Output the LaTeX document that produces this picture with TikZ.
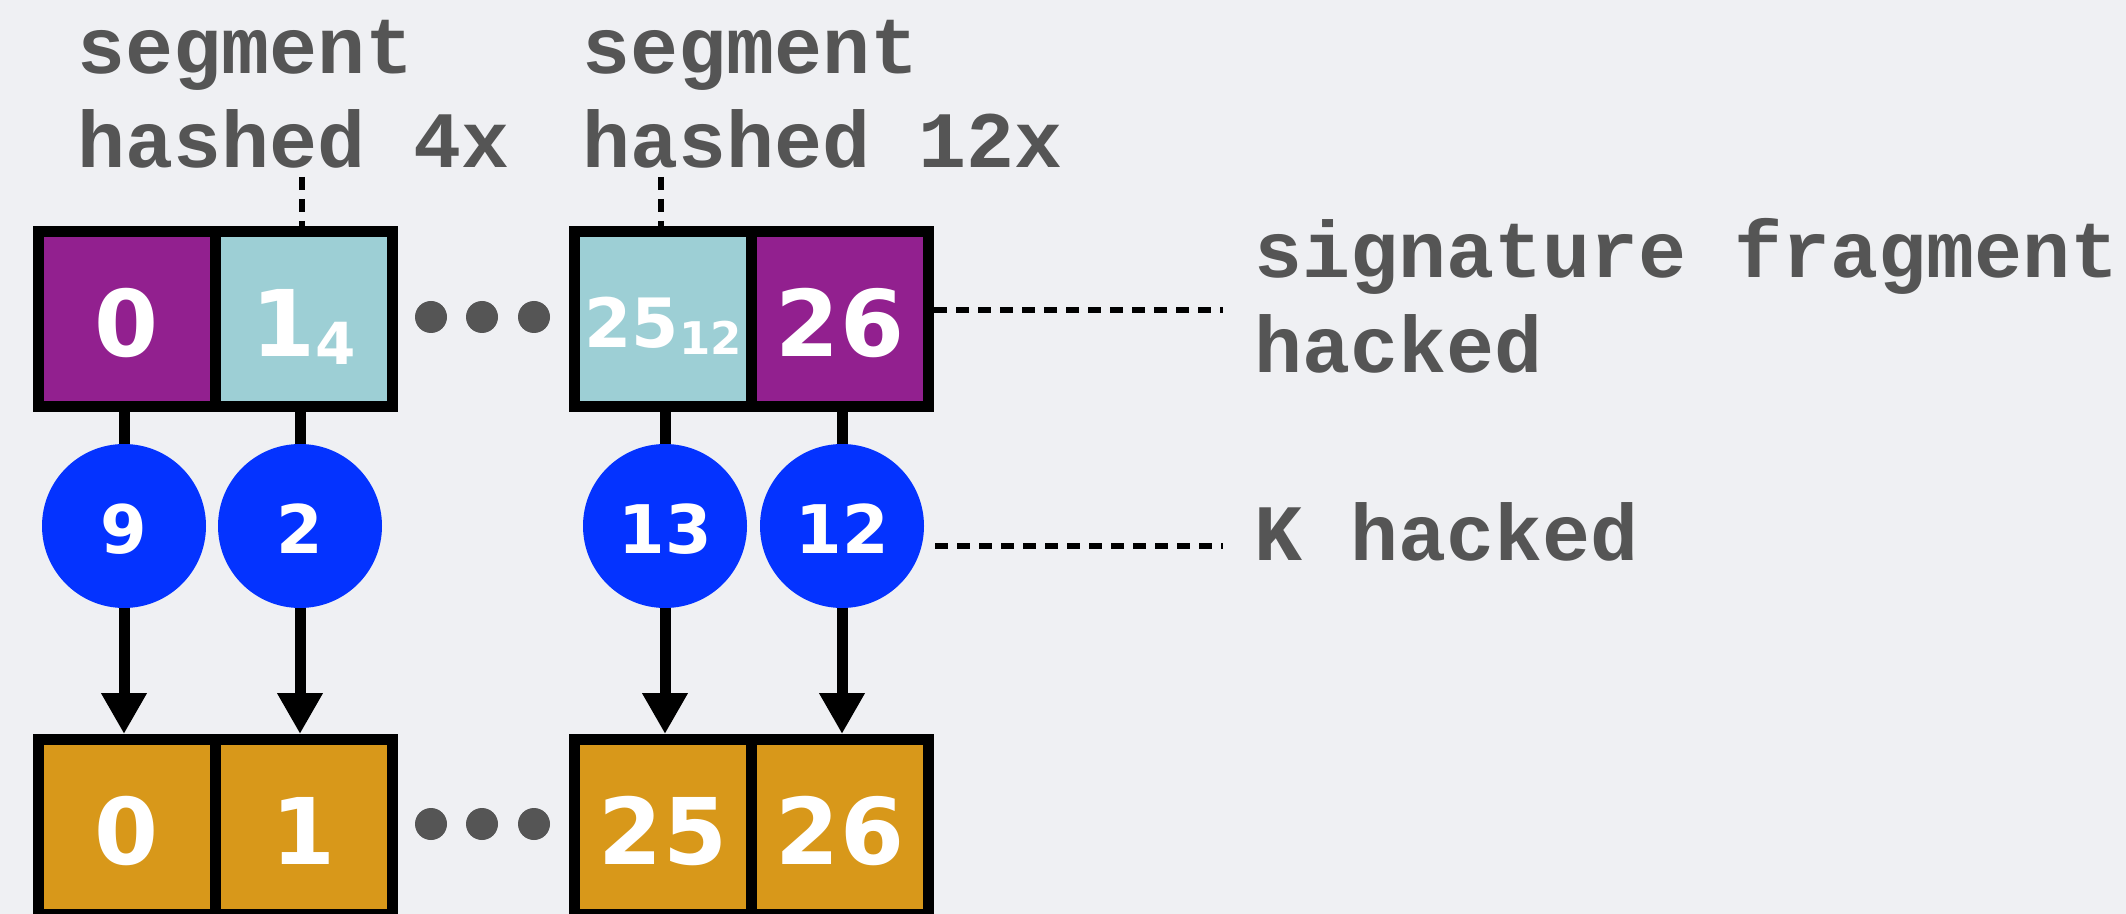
\documentclass[tikz,border=0pt]{standalone}
\usepackage{fontspec}
\newfontfamily\twfont{Liberation Mono}
\newfontfamily\numfont{DejaVu Sans}
\usetikzlibrary{arrows.meta}
\definecolor{bg}{HTML}{EFF0F3}
\definecolor{hackpurple}{HTML}{92208F}
\definecolor{hashteal}{HTML}{9DCFD5}
\definecolor{kblue}{HTML}{0433FF}
\definecolor{outorange}{HTML}{D8981A}
\definecolor{txtgray}{HTML}{555555}
\begin{document}
\begin{tikzpicture}[x=0.5pt,y=-0.5pt,
  cell/.style={draw=black, line width=5.5pt, minimum width=88.5pt, minimum height=87.5pt, inner sep=0pt, text=white, text height=37pt, text depth=0pt, font=\numfont\bfseries\fontsize{46}{46}\selectfont},
  kcirc/.style={circle, fill=kblue, minimum size=82pt, inner sep=0pt, text=white, text height=27pt, text depth=0pt, font=\numfont\bfseries\fontsize{33.5}{33.5}\selectfont},
  lbl/.style={anchor=base west, inner sep=0pt, text=txtgray, font=\twfont\bfseries\fontsize{40}{47}\selectfont},
  leader/.style={line width=3.3pt, dash pattern=on 6.5pt off 4.5pt},
  link/.style={line width=5.5pt},
  arrowlink/.style={line width=5.5pt, -{Triangle[length=20.5pt,width=21.5pt]}},
  ellip/.style={fill=txtgray}
]
\fill[bg] (0,0) rectangle (2126,914);
\useasboundingbox (0,0) rectangle (2126,914);

% top row
\node[cell, fill=hackpurple] (t0) at (127,319.5) {0};
\node[cell, fill=hashteal] (t1) at (304,319.5) {1{\fontsize{29}{29}\selectfont\raisebox{-4pt}{4}}};
\node[cell, fill=hashteal] (t25) at (663,319.5) {\raisebox{4.25pt}{\fontsize{34}{34}\selectfont 25}{\fontsize{22.5}{22.5}\selectfont\raisebox{0.75pt}{12}}};
\node[cell, fill=hackpurple] (t26) at (840,319.5) {26};

% bottom row
\node[cell, fill=outorange] (b0) at (127,827) {0};
\node[cell, fill=outorange] (b1) at (304,827) {1};
\node[cell, fill=outorange] (b25) at (663,827) {25};
\node[cell, fill=outorange] (b26) at (840,827) {26};

% K circles
\node[kcirc] (c0) at (124,526) {9};
\node[kcirc] (c1) at (300,526) {2};
\node[kcirc] (c25) at (665,526) {13};
\node[kcirc] (c26) at (842,526) {12};

% links
\draw[link] (t0.south -| c0) -- (c0.north);
\draw[link] (t1.south -| c1) -- (c1.north);
\draw[link] (t25.south -| c25) -- (c25.north);
\draw[link] (t26.south -| c26) -- (c26.north);
\draw[arrowlink] (c0.south) -- (b0.north -| c0);
\draw[arrowlink] (c1.south) -- (b1.north -| c1);
\draw[arrowlink] (c25.south) -- (b25.north -| c25);
\draw[arrowlink] (c26.south) -- (b26.north -| c26);

% ellipses
\foreach \x in {431,482,534} {
  \fill[ellip] (\x,317) circle[radius=8pt];
  \fill[ellip] (\x,824) circle[radius=8pt];
}

% labels
\node[lbl] (sa1) at (77,74) {segment};
\node[lbl] (sa2) at (77,168) {hashed 4x};
\node[lbl] (sb1) at (582,74) {segment};
\node[lbl] (sb2) at (582,168) {hashed 12x};
\node[lbl] (sf1) at (1254,278) {signature fragment};
\node[lbl] (sf2) at (1254,373) {hacked};
\node[lbl] (kh) at (1254,560) {K hacked};

% leaders
\coordinate (ta) at (302,177);
\draw[leader] (ta) -- (ta |- t1.north);
\coordinate (tb) at (661,177);
\draw[leader] (tb) -- (tb |- t25.north);
\coordinate (sfEnd) at (1223,310);
\draw[leader] (sfEnd -| t26.east) -- (sfEnd);
\coordinate (kEnd) at (1223,546);
\draw[leader, shorten <=5.5pt] (kEnd -| c26.east) -- (kEnd);
\end{tikzpicture}
\end{document}
